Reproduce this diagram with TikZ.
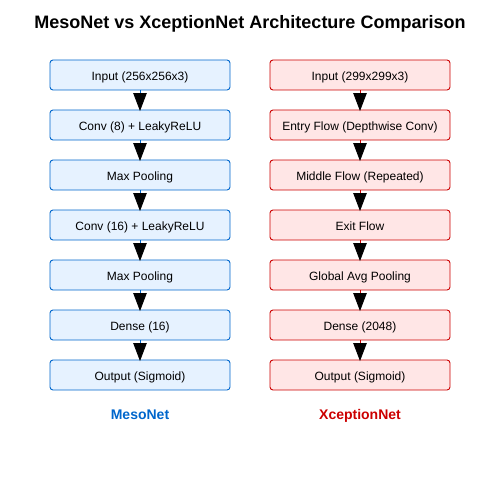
\documentclass[tikz,border=0pt]{standalone}
\usepackage{fontspec}
\setmainfont{Liberation Sans}
\usetikzlibrary{arrows.meta}
\definecolor{mblue}{HTML}{0066CC}
\definecolor{mbluefill}{HTML}{E6F2FF}
\definecolor{xred}{HTML}{CC0000}
\definecolor{xredfill}{HTML}{FFE6E6}
\begin{document}
\begin{tikzpicture}[x=1pt,y=-1pt,
  layer/.style={draw, line width=0.9pt, rounded corners=3pt, minimum width=180pt, minimum height=30pt, inner sep=0pt, text height=11pt, text depth=0pt, font=\fontsize{12}{14}\selectfont, text=black},
  mlayer/.style={layer, draw=mblue, fill=mbluefill},
  xlayer/.style={layer, draw=xred, fill=xredfill},
  flow/.style={line width=0.8pt, -{Triangle[length=18pt,width=13.5pt,fill=black,color=black]}, shorten >=-1.5pt, shorten <=0pt},
  mflow/.style={flow, draw=mblue},
  xflow/.style={flow, draw=xred},
  lab/.style={font=\bfseries\fontsize{14}{16}\selectfont, anchor=base}
]
\useasboundingbox (0,0) rectangle (500,500);
\node[font=\bfseries\fontsize{18}{20}\selectfont, anchor=base] (title) at (250,29) {MesoNet vs XceptionNet Architecture Comparison};
\node[mlayer] (m1) at (140,75) {Input (256x256x3)};
\node[mlayer] (m2) at (140,125) {Conv (8) + LeakyReLU};
\node[mlayer] (m3) at (140,175) {Max Pooling};
\node[mlayer] (m4) at (140,225) {Conv (16) + LeakyReLU};
\node[mlayer] (m5) at (140,275) {Max Pooling};
\node[mlayer] (m6) at (140,325) {Dense (16)};
\node[mlayer] (m7) at (140,375) {Output (Sigmoid)};
\node[xlayer] (x1) at (360,75) {Input (299x299x3)};
\node[xlayer] (x2) at (360,125) {Entry Flow (Depthwise Conv)};
\node[xlayer] (x3) at (360,175) {Middle Flow (Repeated)};
\node[xlayer] (x4) at (360,225) {Exit Flow};
\node[xlayer] (x5) at (360,275) {Global Avg Pooling};
\node[xlayer] (x6) at (360,325) {Dense (2048)};
\node[xlayer] (x7) at (360,375) {Output (Sigmoid)};
\foreach \a/\b in {1/2,2/3,3/4,4/5,5/6,6/7}{
  \draw[mflow] (m\a.south) -- (m\b.north);
  \draw[xflow] (x\a.south) -- (x\b.north);
}
\node[lab, text=mblue] (ml) at (140,419.5) {MesoNet};
\node[lab, text=xred] (xl) at (360,419.5) {XceptionNet};
\end{tikzpicture}
\end{document}
